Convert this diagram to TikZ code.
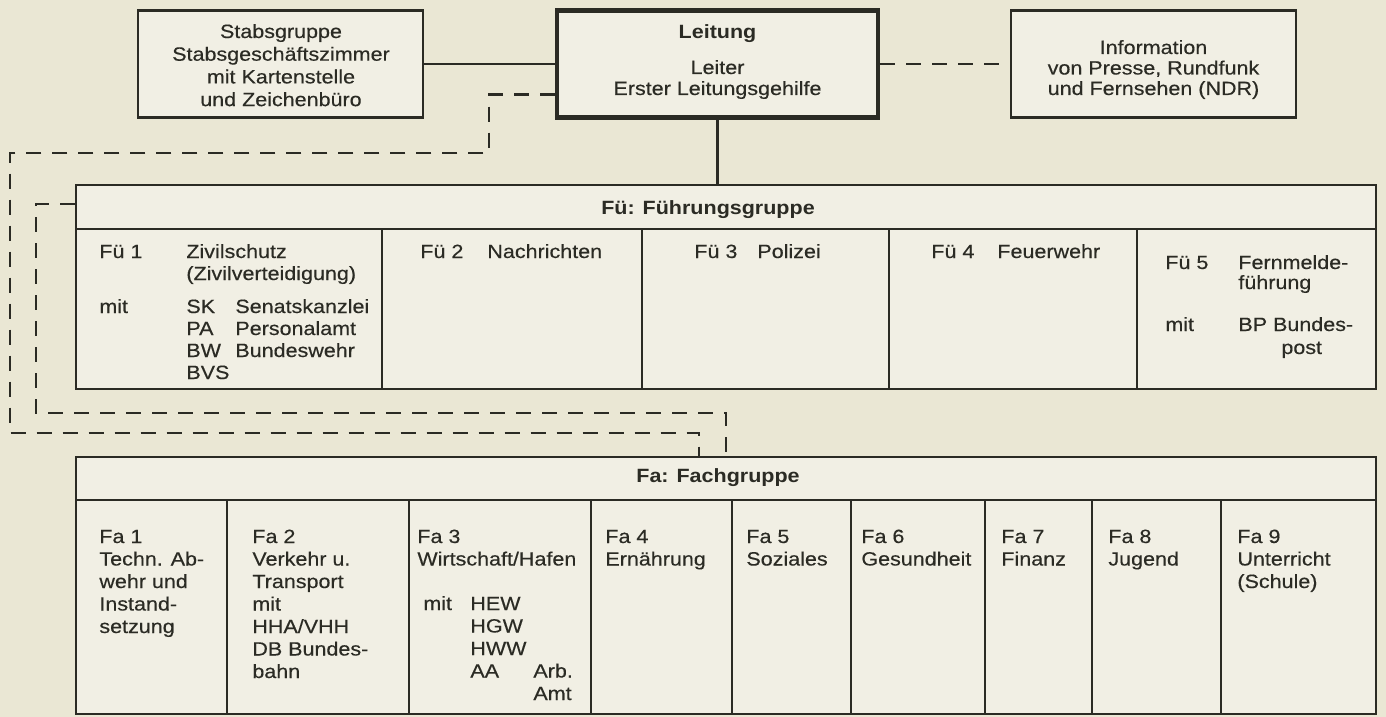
\documentclass[tikz,border=0pt]{standalone}
\usepackage{fontspec}
\setmainfont{Liberation Sans}[FakeStretch=1.12, UprightFeatures={FakeBold=0.35}]
\usetikzlibrary{calc}
\definecolor{paper}{HTML}{EAE7D4}
\definecolor{boxfill}{HTML}{F1EFE4}
\definecolor{ink}{HTML}{2B2B24}
\newcommand{\dfont}{\fontsize{9.6}{11.25}\selectfont}
\newcommand{\ltab}[1]{\begin{tabular}[t]{@{}l@{}}#1\end{tabular}}
\newcommand{\ctab}[1]{\begin{tabular}[t]{@{}c@{}}#1\end{tabular}}
\begin{document}
\begin{tikzpicture}[x=0.5pt,y=-0.5pt,
  box/.style={draw=ink, fill=boxfill, line width=1.1pt, inner sep=0pt, rectangle},
  thickbox/.style={box, line width=2.1pt},
  link/.style={draw=ink, line width=1.1pt},
  dlink/.style={draw=ink, line width=1.1pt, dash pattern=on 7.5pt off 5.5pt},
  divline/.style={draw=ink, line width=1.1pt},
  txt/.style={anchor=base west, inner sep=0pt, text=ink, font=\dfont},
  ctxt/.style={anchor=base, inner sep=0pt, text=ink, font=\dfont}]
\useasboundingbox (0,0) rectangle (1386,717);
\fill[paper] (0,0) rectangle (1386,717);

% top row
\node[box, minimum width=142.5pt, minimum height=53.5pt] (stab) at (280.5,64) {};
\node[thickbox, minimum width=160.5pt, minimum height=53.5pt] (leit) at (717.5,64) {};
\node[box, minimum width=142.5pt, minimum height=53.5pt] (info) at (1153.5,64) {};

% groups
\node[box, minimum width=650pt, minimum height=102pt] (fu) at (726,287) {};
\node[box, minimum width=650pt, minimum height=128.5pt] (fa) at (726,585.5) {};

% inner lines of Fü
\draw[divline] (76,229) -- (1376,229);
\foreach \x in {382,642,889,1137} \draw[divline] (\x,229) -- (\x,389);
% inner lines of Fa
\draw[divline] (76,500) -- (1376,500);
\foreach \x in {227,409,591,732,851,985,1092,1221} \draw[divline] (\x,500) -- (\x,714);

% connectors
\draw[link] (stab.east) -- (leit.west);
\draw[dlink] (leit.east) -- (info.west);
\draw[link] (leit.south) -- (leit.south |- fu.north);
\coordinate (o1) at (489,153);
\coordinate (o2) at (10,433);
\coordinate (o3) at (699,0);
\draw[dlink] ([yshift=12.5pt]leit.south west) -| (o1) -| (o2) -| (o3 |- fa.north);
\coordinate (i1) at (36,413);
\coordinate (i2) at (726,0);
\draw[dlink] ([yshift=-10pt]fu.north west) -| (i1) -| (i2 |- fa.north);

% top texts
\node[ctxt, font=\fontsize{9.6}{11.35}\selectfont] (stabt) at (281,38)
  {\ctab{Stabsgruppe\\Stabsgeschäftszimmer\\mit Kartenstelle\\und Zeichenbüro}};
\node[ctxt, font=\fontsize{9.6}{10.5}\selectfont] (leitt) at (717.5,39)
  {\ctab{\textbf{Leitung}\\[7pt]Leiter\\Erster Leitungsgehilfe}};
\node[ctxt, font=\fontsize{9.6}{10.25}\selectfont] (infot) at (1153.5,54)
  {\ctab{Information\\von Presse, Rundfunk\\und Fernsehen (NDR)}};

% headers
\node[ctxt, font=\dfont\bfseries] (fuh) at (708,214) {Fü: Führungsgruppe};
\node[ctxt, font=\dfont\bfseries] (fah) at (718,482) {Fa: Fachgruppe};

% Fü cells
\node[txt] (f1a) at (99,258) {Fü 1};
\node[txt, font=\fontsize{9.6}{11}\selectfont] (f1b) at (186,258) {\ltab{Zivilschutz\\(Zivilverteidigung)}};
\node[txt] (f1c) at (99,313) {mit};
\node[txt, font=\fontsize{9.6}{11}\selectfont] (f1d) at (186,313) {\ltab{SK\\PA\\BW\\BVS}};
\node[txt, font=\fontsize{9.6}{11}\selectfont] (f1e) at (235,313) {\ltab{Senatskanzlei\\Personalamt\\Bundeswehr}};
\node[txt] (f2a) at (420,258) {Fü 2};
\node[txt] (f2b) at (487,258) {Nachrichten};
\node[txt] (f3a) at (694,258) {Fü 3};
\node[txt] (f3b) at (757,258) {Polizei};
\node[txt] (f4a) at (931,258) {Fü 4};
\node[txt] (f4b) at (997,258) {Feuerwehr};
\node[txt] (f5a) at (1165,269) {Fü 5};
\node[txt, font=\fontsize{9.6}{10}\selectfont] (f5b) at (1238,269) {\ltab{Fernmelde-\\führung}};
\node[txt] (f5c) at (1165,331) {mit};
\node[txt] (f5d) at (1238,331) {BP Bundes-};
\node[txt] (f5e) at (1281,354) {post};

% Fa cells
\node[txt] (a1) at (99,543) {\ltab{Fa 1\\Techn. Ab-\\wehr und\\Instand-\\setzung}};
\node[txt] (a2) at (252,543) {\ltab{Fa 2\\Verkehr u.\\Transport\\mit\\HHA/VHH\\DB Bundes-\\bahn}};
\node[txt] (a3) at (417,543) {\ltab{Fa 3\\Wirtschaft/Hafen}};
\node[txt] (a3m) at (423,610) {mit};
\node[txt] (a3n) at (470,610) {\ltab{HEW\\HGW\\HWW\\AA}};
\node[txt] (a3o) at (533,677.5) {\ltab{Arb.\\Amt}};
\node[txt] (a4) at (605,543) {\ltab{Fa 4\\Ernährung}};
\node[txt] (a5) at (746,543) {\ltab{Fa 5\\Soziales}};
\node[txt] (a6) at (861,543) {\ltab{Fa 6\\Gesundheit}};
\node[txt] (a7) at (1001,543) {\ltab{Fa 7\\Finanz}};
\node[txt] (a8) at (1108,543) {\ltab{Fa 8\\Jugend}};
\node[txt] (a9) at (1237,543) {\ltab{Fa 9\\Unterricht\\(Schule)}};
\end{tikzpicture}
\end{document}
